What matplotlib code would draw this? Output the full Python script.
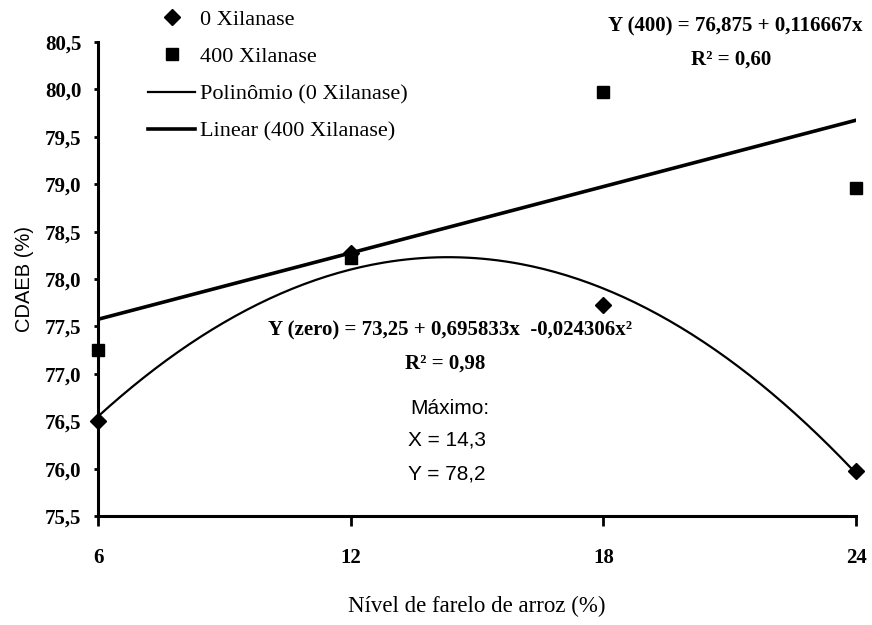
import numpy as np
import matplotlib
matplotlib.use("Agg")
import matplotlib.pyplot as plt
from matplotlib.ticker import FuncFormatter

# Níveis de farelo de arroz (%)
niveis = [6, 12, 18, 24]

# CDAEB (%) observado
cdaeb_0 = [76.50, 78.27, 77.73, 75.97]
cdaeb_400 = [77.25, 78.22, 79.97, 78.96]

# Coeficientes das equações ajustadas
coef_zero = [73.25, 0.695833, -0.024306]   # a + b*x + c*x^2
coef_400 = [76.875, 0.116667]             # a + b*x
r2_zero = "0,98"
r2_400 = "0,60"
max_x = "14,3"
max_y = "78,2"

serif = ["Liberation Serif", "DejaVu Serif"]
sans = ["Liberation Sans Narrow", "Liberation Sans", "DejaVu Sans"]

fig = plt.figure(figsize=(8.72, 6.25), dpi=100)
ax = fig.add_axes([0.1124, 0.1744, 0.8693, 0.7584])

xs = np.linspace(niveis[0], niveis[-1], 200)
y_poli = coef_zero[0] + coef_zero[1] * xs + coef_zero[2] * xs ** 2
y_lin = coef_400[0] + coef_400[1] * xs

ax.plot(xs, y_lin, color="black", lw=2.6, label="Linear (400 Xilanase)", zorder=2)
ax.plot(xs, y_poli, color="black", lw=1.6, label="Polinômio (0 Xilanase)", zorder=2)
ax.plot(niveis, cdaeb_0, "D", color="black", ms=8, ls="none",
        label="0 Xilanase", clip_on=False, zorder=3)
ax.plot(niveis, cdaeb_400, "s", color="black", ms=8, ls="none",
        label="400 Xilanase", clip_on=False, zorder=4)

ax.set_xlim(6, 24)
ax.set_ylim(75.5, 80.5)
ax.set_xticks(niveis)
ax.set_yticks(np.arange(75.5, 80.51, 0.5))
ax.yaxis.set_major_formatter(FuncFormatter(lambda v, p: f"{v:.1f}".replace(".", ",")))

for s in ["top", "right"]:
    ax.spines[s].set_visible(False)
for s in ["left", "bottom"]:
    ax.spines[s].set_linewidth(2.2)

ax.tick_params(axis="x", direction="out", length=7, width=2, pad=16)
ax.tick_params(axis="y", direction="out", length=3, width=2, pad=9)
for lbl in ax.get_xticklabels() + ax.get_yticklabels():
    lbl.set_family(serif)
    lbl.set_fontweight("bold")
    lbl.set_fontsize(15)

ax.set_xlabel("Nível de farelo de arroz (%)", family=serif, fontsize=16.5, labelpad=20)
ax.set_ylabel("CDAEB (%)", family=sans, fontsize=14.5, labelpad=8)

# Legenda no canto superior esquerdo
h, l = ax.get_legend_handles_labels()
ordem = [2, 3, 1, 0]
fig.legend([h[i] for i in ordem], [l[i] for i in ordem], loc="upper left",
           bbox_to_anchor=(0.170, 0.985), frameon=False, borderpad=0,
           borderaxespad=0, handlelength=2.1, handletextpad=0.22,
           labelspacing=0.75, prop={"family": serif, "size": 16})

# Equações
ax.text(0.843, 0.957, "Y (400) = 76,875 + 0,116667x", transform=fig.transFigure,
        ha="center", va="center", family=serif, fontweight="bold", fontsize=15)
ax.text(0.839, 0.905, f"R² = {r2_400}", transform=fig.transFigure,
        ha="center", va="center", family=serif, fontweight="bold", fontsize=15)
ax.text(0.516, 0.472, "Y (zero) = 73,25 + 0,695833x  -0,024306x²",
        transform=fig.transFigure, ha="center", va="center",
        family=serif, fontweight="bold", fontsize=15)
ax.text(0.510, 0.419, f"R² = {r2_zero}", transform=fig.transFigure,
        ha="center", va="center", family=serif, fontweight="bold", fontsize=15)

# Ponto de máximo
ax.text(0.470, 0.346, "Máximo:", transform=fig.transFigure, ha="left", va="center",
        family=sans, fontsize=15)
ax.text(0.468, 0.296, f"X = {max_x}", transform=fig.transFigure, ha="left", va="center",
        family=sans, fontsize=15)
ax.text(0.468, 0.242, f"Y = {max_y}", transform=fig.transFigure, ha="left", va="center",
        family=sans, fontsize=15)

fig.savefig("out.png", dpi=100)
